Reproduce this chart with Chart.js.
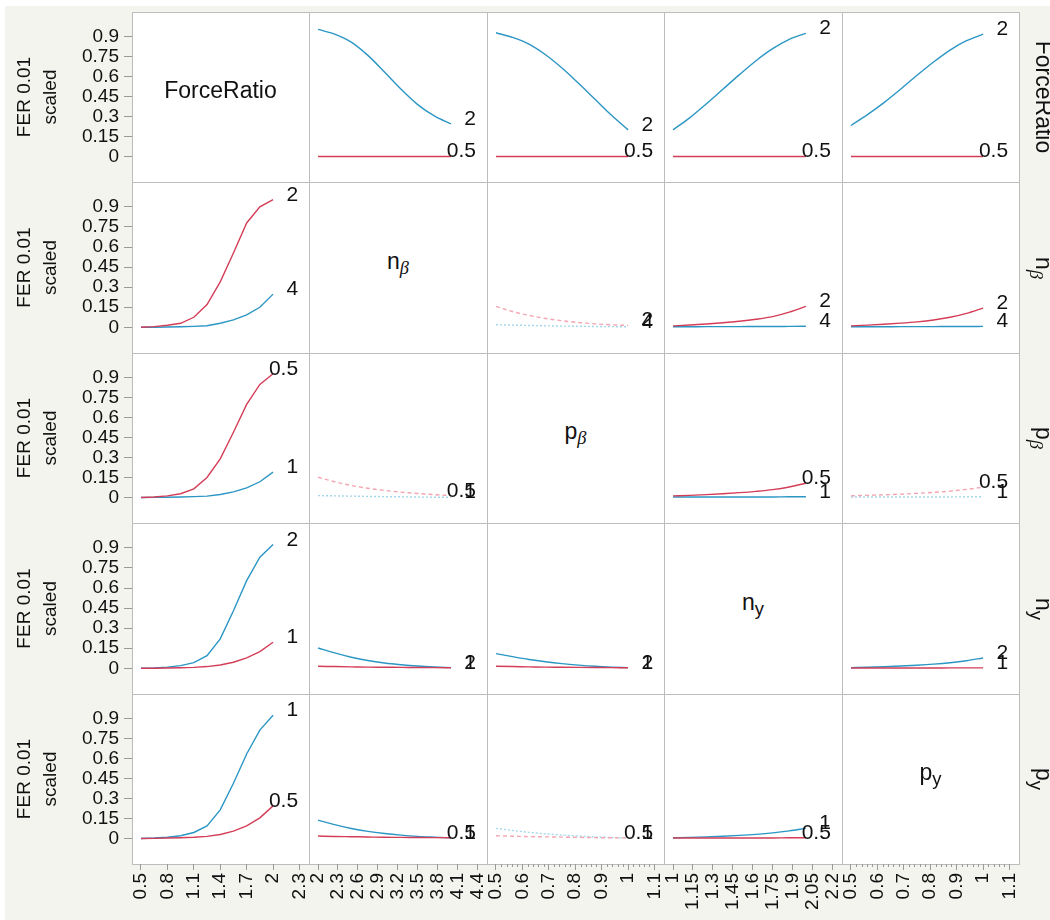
<!DOCTYPE html>
<html>
<head>
<meta charset="utf-8">
<script src="https://cdn.jsdelivr.net/npm/chart.js@4.4.1/dist/chart.umd.min.js"></script>
<style>
  body { margin: 0; width: 1050px; height: 920px; overflow: hidden; background: #fff; position: relative;
         font-family: "Liberation Sans", Arial, sans-serif; }
  #panel { position: absolute; left: 5px; top: 6px; width: 1045px; height: 914px; background: #f4f4ef; }
  .cell { position: absolute; box-sizing: border-box; border: 1px solid #bdbdbd; background: #fff; }
  canvas { position: absolute; }
  .diag { position: absolute; transform: translate(-50%, -50%); font-size: 23px; color: #111; white-space: nowrap; }
  .side { position: absolute; transform: translate(-50%, -50%) rotate(90deg); font-size: 23px; color: #111; white-space: nowrap; }
  .beta { font-family: "Liberation Serif", serif; font-style: italic; }
  sub { font-size: 80%; vertical-align: -0.3em; line-height: 0; }
</style>
</head>
<body>
<div id="panel"></div>
<script>
// factors (one per row / column) and the two levels drawn in each row: red first, blue second
const factorNames = ['ForceRatio', 'n<sub class="beta">β</sub>', 'p<sub class="beta">β</sub>', 'n<sub>y</sub>', 'p<sub>y</sub>'];
const redLevels = ['0.5', '2', '0.5', '1', '0.5'];
const blueLevels = ['2', '4', '1', '2', '1'];

// x values of the profile traces
const xForceRatio = [0.5, 0.65, 0.8, 0.95, 1.1, 1.25, 1.4, 1.55, 1.7, 1.85, 2];
const xNBeta = [2, 2.25, 2.5, 2.75, 3, 3.25, 3.5, 3.75, 4];
const xPBeta = [0.5, 0.5625, 0.625, 0.6875, 0.75, 0.8125, 0.875, 0.9375, 1];
const xNy = [1, 1.125, 1.25, 1.375, 1.5, 1.625, 1.75, 1.875, 2];
const xPy = [0.5, 0.5625, 0.625, 0.6875, 0.75, 0.8125, 0.875, 0.9375, 1];

// tick labels
const yTicks = [0, 0.15, 0.3, 0.45, 0.6, 0.75, 0.9];
const xTicksForceRatio = [0.5, 0.8, 1.1, 1.4, 1.7, 2, 2.3];
const xTicksNBeta = [2, 2.3, 2.6, 2.9, 3.2, 3.5, 3.8, 4.1, 4.4];
const xTicksPBeta = [0.5, 0.6, 0.7, 0.8, 0.9, 1, 1.1];
const xTicksNy = [1, 1.15, 1.3, 1.45, 1.6, 1.75, 1.9, 2.05, 2.2];
const xTicksPy = [0.5, 0.6, 0.7, 0.8, 0.9, 1, 1.1];

// row 1: ForceRatio 0.5 (red) / 2 (blue)
const vsNBeta_FR05 = [0, 0, 0, 0, 0, 0, 0, 0, 0];
const vsNBeta_FR2 = [0.955, 0.92, 0.86, 0.76, 0.635, 0.505, 0.39, 0.305, 0.245];
const vsPBeta_FR05 = [0, 0, 0, 0, 0, 0, 0, 0, 0];
const vsPBeta_FR2 = [0.93, 0.895, 0.845, 0.765, 0.665, 0.55, 0.43, 0.31, 0.2];
const vsNy_FR05 = [0, 0, 0, 0, 0, 0, 0, 0, 0];
const vsNy_FR2 = [0.2, 0.29, 0.395, 0.505, 0.615, 0.72, 0.81, 0.88, 0.926];
const vsPy_FR05 = [0, 0, 0, 0, 0, 0, 0, 0, 0];
const vsPy_FR2 = [0.233, 0.315, 0.405, 0.505, 0.61, 0.71, 0.8, 0.87, 0.919];

// row 2: n_beta 2 (red) / 4 (blue)
const vsForceRatio_NB2 = [0, 0.005, 0.015, 0.03, 0.075, 0.17, 0.34, 0.555, 0.78, 0.9, 0.955];
const vsForceRatio_NB4 = [0, 0.001, 0.002, 0.004, 0.007, 0.012, 0.03, 0.055, 0.093, 0.15, 0.248];
const vsPBeta_NB2 = [0.156, 0.118, 0.089, 0.066, 0.049, 0.036, 0.026, 0.019, 0.014];
const vsPBeta_NB4 = [0.019, 0.016, 0.014, 0.011, 0.009, 0.008, 0.006, 0.005, 0.004];
const vsNy_NB2 = [0.011, 0.017, 0.025, 0.034, 0.045, 0.06, 0.08, 0.113, 0.156];
const vsNy_NB4 = [0.004, 0.004, 0.005, 0.005, 0.005, 0.006, 0.006, 0.007, 0.008];
const vsPy_NB2 = [0.011, 0.016, 0.023, 0.031, 0.041, 0.055, 0.075, 0.104, 0.144];
const vsPy_NB4 = [0.004, 0.004, 0.004, 0.005, 0.005, 0.005, 0.006, 0.006, 0.007];

// row 3: p_beta 0.5 (red) / 1 (blue)
const vsForceRatio_PB05 = [0, 0.004, 0.012, 0.028, 0.065, 0.15, 0.29, 0.49, 0.7, 0.85, 0.93];
const vsForceRatio_PB1 = [0, 0.001, 0.002, 0.003, 0.006, 0.01, 0.022, 0.042, 0.072, 0.118, 0.19];
const vsNBeta_PB05 = [0.152, 0.118, 0.09, 0.069, 0.053, 0.04, 0.03, 0.021, 0.014];
const vsNBeta_PB1 = [0.014, 0.012, 0.01, 0.008, 0.006, 0.005, 0.003, 0.002, 0.001];
const vsNy_PB05 = [0.012, 0.016, 0.021, 0.028, 0.036, 0.046, 0.059, 0.079, 0.107];
const vsNy_PB1 = [0.003, 0.003, 0.003, 0.004, 0.004, 0.004, 0.004, 0.005, 0.005];
const vsPy_PB05 = [0.012, 0.016, 0.02, 0.025, 0.031, 0.038, 0.048, 0.061, 0.077];
const vsPy_PB1 = [0.003, 0.003, 0.003, 0.004, 0.004, 0.004, 0.004, 0.005, 0.005];

// row 4: n_y 1 (red) / 2 (blue)
const vsForceRatio_NY1 = [0, 0.001, 0.002, 0.004, 0.007, 0.013, 0.025, 0.045, 0.078, 0.125, 0.195];
const vsForceRatio_NY2 = [0, 0.003, 0.009, 0.02, 0.042, 0.095, 0.22, 0.43, 0.655, 0.83, 0.925];
const vsNBeta_NY1 = [0.015, 0.013, 0.011, 0.009, 0.008, 0.007, 0.006, 0.005, 0.004];
const vsNBeta_NY2 = [0.152, 0.115, 0.083, 0.058, 0.04, 0.027, 0.017, 0.01, 0.005];
const vsPBeta_NY1 = [0.015, 0.013, 0.011, 0.009, 0.008, 0.007, 0.006, 0.005, 0.004];
const vsPBeta_NY2 = [0.11, 0.087, 0.066, 0.049, 0.035, 0.024, 0.015, 0.009, 0.005];
const vsPy_NY1 = [0.002, 0.002, 0.002, 0.002, 0.002, 0.002, 0.003, 0.003, 0.003];
const vsPy_NY2 = [0.005, 0.008, 0.012, 0.017, 0.023, 0.031, 0.042, 0.057, 0.077];

// row 5: p_y 0.5 (red) / 1 (blue)
const vsForceRatio_PY05 = [0, 0.001, 0.003, 0.005, 0.009, 0.016, 0.03, 0.055, 0.095, 0.155, 0.245];
const vsForceRatio_PY1 = [0, 0.003, 0.009, 0.02, 0.045, 0.095, 0.215, 0.415, 0.635, 0.815, 0.926];
const vsNBeta_PY05 = [0.018, 0.015, 0.013, 0.011, 0.009, 0.008, 0.007, 0.006, 0.005];
const vsNBeta_PY1 = [0.138, 0.104, 0.075, 0.053, 0.037, 0.025, 0.016, 0.01, 0.005];
const vsPBeta_PY05 = [0.02, 0.017, 0.014, 0.012, 0.01, 0.008, 0.006, 0.005, 0.004];
const vsPBeta_PY1 = [0.076, 0.06, 0.046, 0.035, 0.026, 0.018, 0.012, 0.007, 0.004];
const vsNy_PY05 = [0.004, 0.004, 0.004, 0.004, 0.004, 0.004, 0.004, 0.005, 0.005];
const vsNy_PY1 = [0.005, 0.008, 0.012, 0.017, 0.023, 0.031, 0.042, 0.057, 0.076];

// [red, blue] pairs per cell, null on the diagonal
const cellSeries = [
  [null, [vsNBeta_FR05, vsNBeta_FR2], [vsPBeta_FR05, vsPBeta_FR2], [vsNy_FR05, vsNy_FR2], [vsPy_FR05, vsPy_FR2]],
  [[vsForceRatio_NB2, vsForceRatio_NB4], null, [vsPBeta_NB2, vsPBeta_NB4], [vsNy_NB2, vsNy_NB4], [vsPy_NB2, vsPy_NB4]],
  [[vsForceRatio_PB05, vsForceRatio_PB1], [vsNBeta_PB05, vsNBeta_PB1], null, [vsNy_PB05, vsNy_PB1], [vsPy_PB05, vsPy_PB1]],
  [[vsForceRatio_NY1, vsForceRatio_NY2], [vsNBeta_NY1, vsNBeta_NY2], [vsPBeta_NY1, vsPBeta_NY2], null, [vsPy_NY1, vsPy_NY2]],
  [[vsForceRatio_PY05, vsForceRatio_PY1], [vsNBeta_PY05, vsNBeta_PY1], [vsPBeta_PY05, vsPBeta_PY1], [vsNy_PY05, vsNy_PY1], null]
];
const dottedCells = ['1,2', '2,1', '2,4', '4,2'];

const xGrids = [xForceRatio, xNBeta, xPBeta, xNy, xPy];
const xTickSets = [xTicksForceRatio, xTicksNBeta, xTicksPBeta, xTicksNy, xTicksPy];
const xRanges = [[0.398, 2.408], [1.864, 4.543], [0.466, 1.136], [0.932, 2.272], [0.466, 1.136]];
const yRange = [-0.192, 1.086];

// minor ticks every 0.02 on the p columns
const minorP = [];
for (let i = 0; i <= 30; i++) {
  const v = Math.round((0.5 + i * 0.02) * 100) / 100;
  if (Math.round(v * 100) % 10 !== 0) minorP.push(v);
}
const minorSets = [null, null, minorP, null, minorP];

const RED = '#d43d57', BLUE = '#2b96c4';
const RED_LIGHT = '#f3a5b2', BLUE_LIGHT = '#a3d7ec';
const colX = [132, 309, 487, 664, 842, 1019];
const rowY = [12, 182, 353, 523, 694, 864];
const PAD = 12;
const FONT = '"Liberation Sans", Arial, sans-serif';

Chart.defaults.font.family = FONT;
Chart.defaults.color = '#111';

const endLabels = {
  id: 'endLabels',
  afterDatasetsDraw(chart) {
    const ctx = chart.ctx;
    ctx.save();
    ctx.font = '21px ' + FONT;
    ctx.fillStyle = '#111';
    ctx.textAlign = 'right';
    ctx.textBaseline = 'alphabetic';
    chart.data.datasets.forEach((ds, i) => {
      const pts = chart.getDatasetMeta(i).data;
      const last = pts[pts.length - 1];
      ctx.fillText(ds.label, last.x + 25, last.y + 1);
    });
    ctx.restore();
  }
};

const minorTickMarks = {
  id: 'minorTickMarks',
  afterDraw(chart, args, opts) {
    if (!opts.values || !chart.options.scales.x.display) return;
    const sx = chart.scales.x, ctx = chart.ctx, y0 = chart.chartArea.bottom;
    ctx.save();
    ctx.strokeStyle = '#9a9a9a';
    ctx.lineWidth = 1;
    ctx.beginPath();
    opts.values.forEach(v => {
      const px = Math.round(sx.getPixelForValue(v)) + 0.5;
      ctx.moveTo(px, y0);
      ctx.lineTo(px, y0 + 3);
    });
    ctx.stroke();
    ctx.restore();
  }
};

function addDiv(cls, html, left, top) {
  const d = document.createElement('div');
  d.className = cls;
  d.innerHTML = html;
  d.style.left = left + 'px';
  d.style.top = top + 'px';
  document.body.appendChild(d);
  return d;
}

// cell frames
for (let r = 0; r < 5; r++) {
  for (let c = 0; c < 5; c++) {
    const d = addDiv('cell', '', colX[c], rowY[r]);
    d.style.width = (colX[c + 1] - colX[c] + 1) + 'px';
    d.style.height = (rowY[r + 1] - rowY[r] + 1) + 'px';
  }
}

for (let r = 0; r < 5; r++) {
  for (let c = 0; c < 5; c++) {
    const isLeft = c === 0, isBottom = r === 4;
    const pair = cellSeries[r][c];
    if (!pair && !isLeft && !isBottom) continue;

    const left = isLeft ? 0 : colX[c] - PAD;
    const right = colX[c + 1] + PAD;
    const top = rowY[r];
    const bottom = isBottom ? 920 : rowY[r + 1];
    const cv = document.createElement('canvas');
    cv.width = right - left;
    cv.height = bottom - top;
    cv.style.left = left + 'px';
    cv.style.top = top + 'px';
    document.body.appendChild(cv);

    const dotted = dottedCells.includes(r + ',' + c);
    const datasets = [];
    if (pair) {
      const xs = xGrids[c];
      [[pair[0], redLevels[r], dotted ? RED_LIGHT : RED, dotted ? [4, 3] : []],
       [pair[1], blueLevels[r], dotted ? BLUE_LIGHT : BLUE, dotted ? [2, 2] : []]].forEach(([vals, lab, col, dash]) => {
        datasets.push({
          label: lab,
          data: xs.map((x, i) => ({ x: x, y: vals[i] })),
          borderColor: col,
          borderDash: dash,
          borderWidth: 1.4,
          pointRadius: 0,
          fill: false,
          tension: 0,
          cubicInterpolationMode: c === 0 ? 'default' : 'monotone'
        });
      });
    }

    new Chart(cv, {
      type: 'line',
      data: { datasets: datasets },
      plugins: [endLabels, minorTickMarks],
      options: {
        responsive: false,
        animation: false,
        events: [],
        layout: { padding: { left: isLeft ? 0 : PAD, right: PAD, top: 0, bottom: 0 } },
        plugins: {
          legend: { display: false },
          tooltip: { enabled: false },
          minorTickMarks: { values: minorSets[c] }
        },
        scales: {
          x: {
            type: 'linear',
            min: xRanges[c][0],
            max: xRanges[c][1],
            display: isBottom,
            afterBuildTicks: s => { s.ticks = xTickSets[c].map(v => ({ value: v })); },
            afterFit: s => {
              if (isBottom) s.height = 56;
              s.paddingLeft = 0;
              s.paddingRight = 0;
            },
            grid: { drawOnChartArea: false, tickLength: 6, color: '#9a9a9a' },
            border: { display: false },
            ticks: { padding: 3, minRotation: 90, maxRotation: 90, autoSkip: false,
                     font: { size: 19 }, color: '#111', callback: v => String(v) }
          },
          y: {
            type: 'linear',
            min: yRange[0],
            max: yRange[1],
            display: isLeft,
            afterBuildTicks: s => { s.ticks = yTicks.map(v => ({ value: v })); },
            afterFit: s => {
              if (isLeft) s.width = 132;
              s.paddingTop = 0;
              s.paddingBottom = 0;
            },
            grid: { drawOnChartArea: false, tickLength: 8, color: '#9a9a9a' },
            border: { display: false },
            ticks: { padding: 5, autoSkip: false, font: { size: 19 }, color: '#111', callback: v => String(v) },
            title: { display: true, text: ['FER 0.01', 'scaled'], color: '#111',
                     font: { size: 19, lineHeight: 1.35 }, padding: { top: 12, bottom: 0 } }
          }
        }
      }
    });
  }
}

// diagonal names and row names on the right
for (let i = 0; i < 5; i++) {
  const cx = (colX[i] + colX[i + 1]) / 2;
  const cy = (rowY[i] + rowY[i + 1]) / 2;
  addDiv('diag', factorNames[i], cx, cy - 7);
  addDiv('side', factorNames[i], 1043, cy);
}
</script>
</body>
</html>
